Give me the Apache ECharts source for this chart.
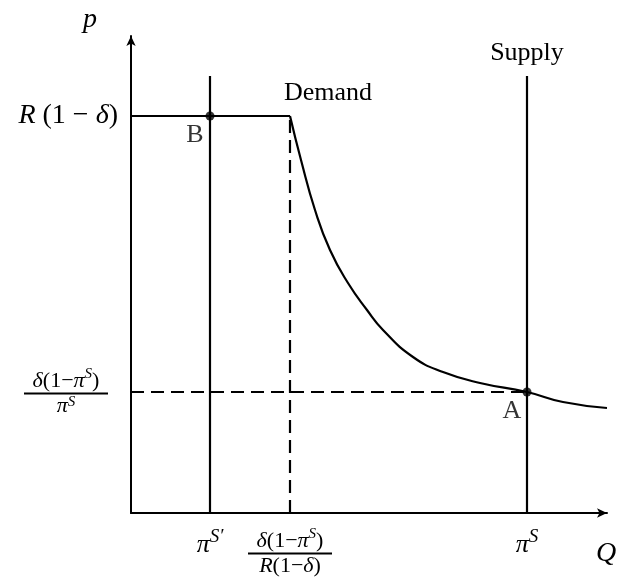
<!DOCTYPE html>
<html>
<head>
<meta charset="utf-8">
<script src="https://cdn.jsdelivr.net/npm/echarts@6/dist/echarts.min.js"></script>
<style>
  html, body { margin: 0; padding: 0; background: #fff; }
  #chart { width: 621px; height: 582px; }
</style>
</head>
<body>
<div id="chart"></div>
<script>
  // values (arbitrary units)
  const piSPrime = 0.79;   // π^S'
  const qKink = 1.59;      // δ(1-π^S) / R(1-δ)
  const piS = 3.96;        // π^S
  const pTop = 3.97;       // R(1-δ)
  const pA = 1.21;         // δ(1-π^S) / π^S
  const lineTop = 4.37;    // top of the two vertical lines

  const demandQ = [1.59, 1.70, 1.84, 1.99, 2.17, 2.36, 2.52, 2.82, 3.12, 3.49, 3.96, 4.32, 4.76];
  const demandP = [3.97, 3.53, 3.03, 2.63, 2.30, 2.03, 1.83, 1.56, 1.41, 1.30, 1.21, 1.11, 1.05];

  const xTickValues = [piSPrime, qKink, piS];
  const xTickLabels = [
    '{pi|π}{sup|S′}',
    '{fi|δ}{fr|(1−}{fi|π}{fs|S}{fr|)}\n{bar| }\n{di|R}{dr|(1−}{di|δ}{dr|)}',
    '{pi|π}{sup|S}'
  ];
  const yTickValues = [pTop];
  const yTickLabels = ['{i|R}{r| (1 − }{i|δ}{r|)}'];
  const yFracValues = [pA];
  const yFracLabels = ['{fi|δ}{fr|(1−}{fi|π}{fs|S}{fr|)}\n{bar| }\n{dp|π}{ds|S}'];

  const FONT = 'Liberation Serif';
  const base = { fontFamily: FONT, color: '#000' };
  const rich = {
    r: { ...base, fontSize: 28 },
    i: { ...base, fontSize: 28, fontStyle: 'italic' },
    pi: { ...base, fontSize: 26, fontStyle: 'italic', verticalAlign: 'bottom', lineHeight: 31 },
    sup: { ...base, fontSize: 19, fontStyle: 'italic', verticalAlign: 'top' },
    // fraction numerator
    fr: { ...base, fontSize: 22, align: 'center', verticalAlign: 'bottom', lineHeight: 25 },
    fi: { ...base, fontSize: 22, fontStyle: 'italic', align: 'center', verticalAlign: 'bottom', lineHeight: 25 },
    fs: { ...base, fontSize: 15, fontStyle: 'italic', align: 'center', verticalAlign: 'top' },
    // fraction denominator
    dr: { ...base, fontSize: 22, align: 'center', lineHeight: 22 },
    di: { ...base, fontSize: 22, fontStyle: 'italic', align: 'center', lineHeight: 22 },
    dp: { ...base, fontSize: 22, fontStyle: 'italic', align: 'center', verticalAlign: 'bottom', lineHeight: 22 },
    ds: { ...base, fontSize: 15, fontStyle: 'italic', align: 'center', verticalAlign: 'top' },
    bar: { fontSize: 1, width: 84, height: 2, lineHeight: 3, backgroundColor: '#000', align: 'center' }
  };

  const black = '#000';
  const solid = { color: black, width: 2.2 };
  const dashed = { color: black, width: 2.2, type: [13, 7] };

  const chart = echarts.init(document.getElementById('chart'));

  const option = {
    animation: false,
    grid: { left: 131, top: 36, width: 476, height: 477, outerBoundsMode: 'none' },
    xAxis: {
      type: 'value', min: 0, max: 4.76,
      name: 'Q', nameLocation: 'end', nameGap: -1,
      nameTextStyle: { fontFamily: FONT, fontSize: 28, fontStyle: 'italic', color: black, align: 'center', verticalAlign: 'top', padding: [27, 0, 0, 0] },
      axisLine: { lineStyle: { color: black, width: 2 }, symbol: ['none', 'arrow'], symbolSize: [7, 10] },
      axisTick: { show: false },
      splitLine: { show: false },
      axisLabel: {
        customValues: xTickValues, margin: 14, rich: rich,
        formatter: (v) => xTickLabels[xTickValues.indexOf(v)]
      }
    },
    yAxis: [{
      type: 'value', min: 0, max: 4.77, position: 'left',
      name: 'p', nameLocation: 'end', nameGap: 2,
      nameTextStyle: { fontFamily: FONT, fontSize: 28, fontStyle: 'italic', color: black, align: 'right', verticalAlign: 'bottom', padding: [0, 34, 0, 0] },
      axisLine: { lineStyle: { color: black, width: 2 }, symbol: ['none', 'arrow'], symbolSize: [7, 10] },
      axisTick: { show: false },
      splitLine: { show: false },
      axisLabel: {
        customValues: yTickValues, margin: 13, rich: rich,
        formatter: (v) => yTickLabels[yTickValues.indexOf(v)]
      }
    }, {
      type: 'value', min: 0, max: 4.77, position: 'left',
      axisLine: { show: false },
      axisTick: { show: false },
      splitLine: { show: false },
      axisLabel: {
        customValues: yFracValues, margin: 23, rich: rich,
        formatter: (v) => yFracLabels[yFracValues.indexOf(v)]
      }
    }],
    series: [
      {
        // flat part of demand
        type: 'line', symbolSize: 0, lineStyle: solid, z: 3,
        data: [[0, pTop], {
          value: [qKink, pTop],
          label: { show: true, formatter: 'Demand', position: 'top', distance: 10, offset: [38, 0],
                   fontFamily: FONT, fontSize: 26, color: black }
        }]
      },
      {
        // curved part of demand
        type: 'line', showSymbol: false, smooth: 0.5, lineStyle: solid, z: 3,
        data: demandQ.map((q, i) => [q, demandP[i]])
      },
      {
        type: 'line', symbolSize: 0, lineStyle: solid, z: 3,
        data: [[piS, 0], {
          value: [piS, lineTop],
          label: { show: true, formatter: 'Supply', position: 'top', distance: 10,
                   fontFamily: FONT, fontSize: 26, color: black }
        }]
      },
      {
        type: 'line', showSymbol: false, lineStyle: solid, z: 3,
        data: [[piSPrime, 0], [piSPrime, lineTop]]
      },
      {
        type: 'line', showSymbol: false, lineStyle: dashed, z: 2,
        data: [[qKink, 0], [qKink, pTop]]
      },
      {
        type: 'line', showSymbol: false, lineStyle: dashed, z: 2,
        data: [[0, pA], [piS, pA]]
      },
      {
        type: 'scatter', symbolSize: 9, itemStyle: { color: black }, z: 5,
        label: { show: true, formatter: (p) => p.data[2], position: 'bottom', distance: 1, offset: [-15, 1],
                 fontFamily: FONT, fontSize: 26, color: black, textBorderWidth: 0 },
        data: [[piSPrime, pTop, 'B'], [piS, pA, 'A']]
      }
    ]
  };

  chart.setOption(option);
</script>
</body>
</html>
